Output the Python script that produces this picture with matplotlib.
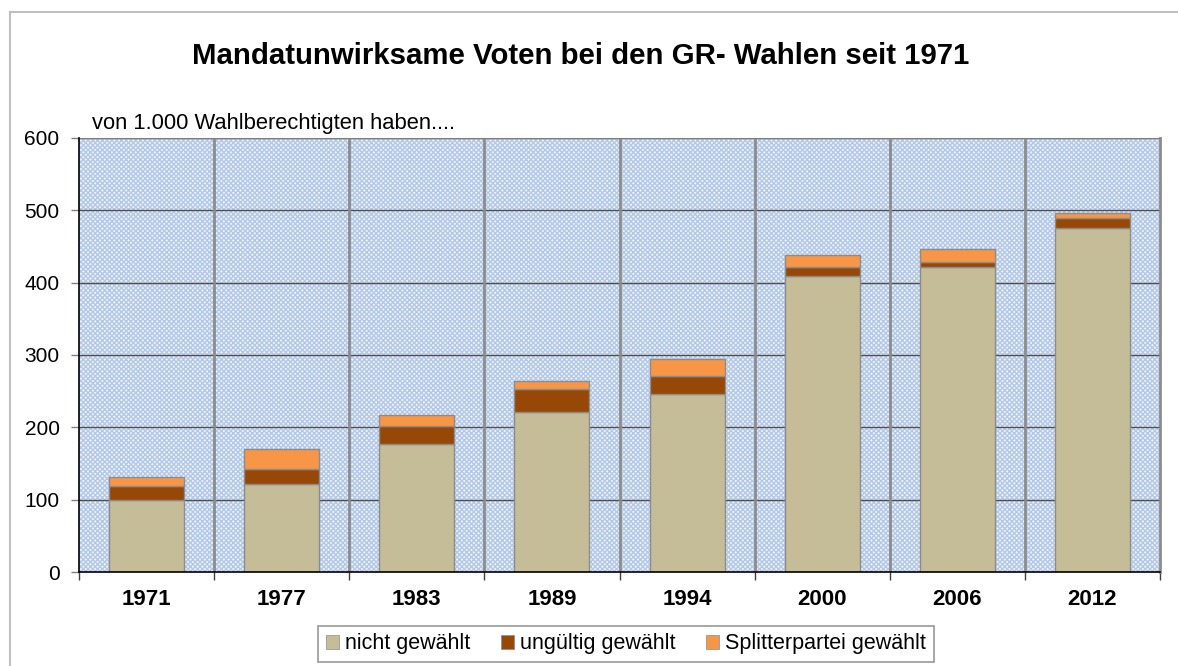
import matplotlib
matplotlib.use("Agg")
import matplotlib.pyplot as plt
import numpy as np
from matplotlib.patches import Rectangle, Patch
from matplotlib.lines import Line2D

years = ["1971", "1977", "1983", "1989", "1994", "2000", "2006", "2012"]
nicht_gewaehlt = [100, 121, 176.5, 221, 246, 409, 421, 476]
ungueltig = [18.5, 21, 25.5, 32.5, 24.5, 12, 7, 14]
splitter = [12.5, 28, 15.5, 10.5, 23.5, 17, 18, 7]
series_names = ["nicht gewählt", "ungültig gewählt", "Splitterpartei gewählt"]
colors = ["#c4bd97", "#974706", "#f79646"]
yticks = [0, 100, 200, 300, 400, 500, 600]

plt.rcParams['font.family'] = ['Liberation Sans', 'DejaVu Sans']
plt.rcParams['hatch.linewidth'] = 1.0
plt.rcParams['hatch.color'] = '#b3c8e6'

W, H = 1178, 666
fig = plt.figure(figsize=(W / 100, H / 100), dpi=100)
ax = fig.add_axes([79 / W, (H - 572) / H, (1160 - 79) / W, (572 - 138) / H])

# patterned background
bg = Rectangle((0, 0), 1, 1, transform=ax.transAxes, facecolor='#eef3fa',
               edgecolor='#b3c8e6', hatch='xxxxxxx', linewidth=0, zorder=0)
ax.add_patch(bg)
ax.set_facecolor('white')

x = np.arange(len(years))
bw = 0.555
b1 = np.array(nicht_gewaehlt)
b2 = b1 + np.array(ungueltig)
ax.bar(x, nicht_gewaehlt, bw, color=colors[0], edgecolor='#8c8c8c', linewidth=1.0, zorder=3)
ax.bar(x, ungueltig, bw, bottom=b1, color=colors[1], edgecolor='#8c8c8c', linewidth=1.0, zorder=3)
ax.bar(x, splitter, bw, bottom=b2, color=colors[2], edgecolor='#8c8c8c', linewidth=1.0, zorder=3)

ax.set_xlim(-0.5, len(years) - 0.5)
ax.set_ylim(0, 600)
ax.set_yticks(yticks)
ax.set_yticklabels([str(v) for v in yticks], fontsize=15)
ax.set_xticks(x)
ax.set_xticklabels(years, fontsize=16, fontweight='bold')
ax.set_xticks(np.arange(-0.5, len(years), 1), minor=True)
ax.tick_params(axis='x', which='major', length=0, pad=12)
ax.tick_params(axis='x', which='minor', length=6, width=1, color='#404040', direction='out')
ax.tick_params(axis='y', which='major', length=6, width=1, color='#808080', direction='out', pad=8)

# grid
for v in yticks[1:]:
    ax.axhline(v, color='#505050', linewidth=1.0, zorder=1)
for v in np.arange(0.5, len(years) - 0.5, 1):
    ax.axvline(v, color='#8c8c8c', linewidth=2.0, zorder=1)

for s in ['left', 'bottom']:
    ax.spines[s].set_color('black')
    ax.spines[s].set_linewidth(1.2)
    ax.spines[s].set_zorder(4)
ax.spines['top'].set_color('#808080')
ax.spines['right'].set_color('#8c8c8c')
ax.spines['right'].set_linewidth(2.0)

fig.text(581 / W, 1 - 56 / H, "Mandatunwirksame Voten bei den GR- Wahlen seit 1971",
         ha='center', va='center', fontsize=21.2, fontweight='bold')
fig.text(92 / W, 1 - 124 / H, "von 1.000 Wahlberechtigten haben....",
         ha='left', va='center', fontsize=15.8)

handles = [Patch(facecolor=c, edgecolor='#8c8c8c', linewidth=0.5) for c in colors]
leg = fig.legend(handles, series_names, loc='center', bbox_to_anchor=(626 / W, 1 - 644 / H),
                 ncol=3, fontsize=15.5, frameon=True, fancybox=False, edgecolor='#808080',
                 handlelength=0.6, handleheight=0.6, handletextpad=0.3, columnspacing=1.4,
                 borderpad=0.35, borderaxespad=0)
leg.get_frame().set_linewidth(1.2)

# outer chart border
fig.add_artist(Line2D([10 / W, 10 / W], [0, 1 - 12 / H], transform=fig.transFigure,
                      color='#bfbfbf', linewidth=1.5))
fig.add_artist(Line2D([10 / W, 1], [1 - 12 / H, 1 - 12 / H], transform=fig.transFigure,
                      color='#bfbfbf', linewidth=1.5))

fig.savefig("out.png", dpi=100)
